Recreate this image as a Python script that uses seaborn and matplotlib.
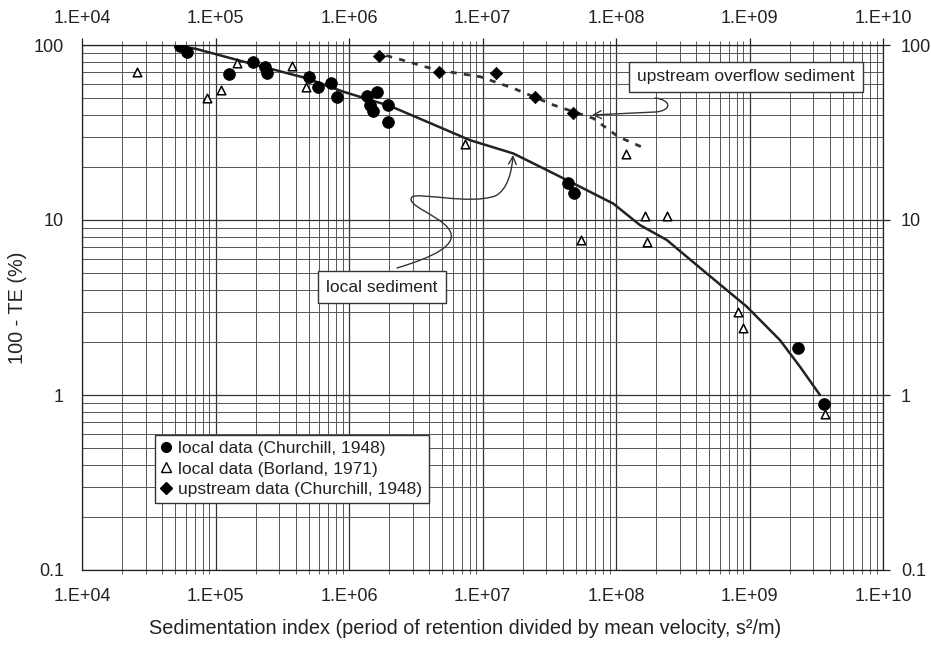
import numpy as np
import pandas as pd
import matplotlib
matplotlib.use("Agg")
import matplotlib.pyplot as plt
import seaborn as sns
from matplotlib.patches import FancyArrowPatch
from matplotlib.path import Path
from matplotlib.lines import Line2D
from matplotlib.ticker import FixedLocator, FixedFormatter, LogLocator, NullFormatter

# ---------------- data ----------------
churchill_x = [5.4e4, 6.1e4, 1.27e5, 1.9e5, 2.36e5, 2.44e5, 5.0e5, 5.9e5, 7.3e5, 8.2e5,
               1.37e6, 1.61e6, 1.44e6, 1.5e6, 1.97e6, 1.97e6, 4.4e7, 4.87e7, 2.32e9, 3.6e9]
churchill_y = [98.7, 91.6, 68.2, 80.3, 74.5, 69.5, 65.3, 57.8, 60.4, 50.7,
               51.3, 54.1, 45.4, 42.0, 45.4, 36.5, 16.2, 14.2, 1.86, 0.885]

borland_x = [2.6e4, 8.7e4, 1.1e5, 1.44e5, 3.72e5, 4.77e5, 7.4e6, 5.5e7, 1.19e8,
             1.65e8, 1.72e8, 2.42e8, 8.2e8, 8.9e8, 3.68e9]
borland_y = [69.8, 49.6, 55.3, 78.5, 75.9, 57.3, 27.1, 7.7, 23.8,
             10.6, 7.5, 10.6, 3.0, 2.43, 0.78]

upstream_x = [1.68e6, 4.74e6, 1.26e7, 2.47e7, 4.74e7]
upstream_y = [86.5, 70.4, 68.9, 50.7, 40.7]

local_curve_x = [5.4e4, 7.2e4, 1.92e5, 4.8e5, 9.06e5, 2.03e6, 4.05e6, 8.05e6, 1.7e7,
                 3.03e7, 5.37e7, 9.55e7, 1.51e8, 2.4e8, 4.78e8, 9.53e8, 1.69e9,
                 2.39e9, 3.37e9]
local_curve_y = [98.7, 94.9, 77.6, 64.6, 54.1, 44.8, 35.8, 28.6, 24.0,
                 19.3, 15.5, 12.4, 9.36, 7.69, 4.95, 3.2, 2.06,
                 1.45, 1.0]

upstream_curve_x = [1.9e6, 2.41e6, 4.5e6, 9.6e6, 1.7e7, 3.4e7, 6.76e7, 1.04e8, 1.72e8]
upstream_curve_y = [87.0, 82.8, 72.0, 65.9, 56.6, 45.4, 38.1, 29.9, 25.3]

x_ticks = [1e4, 1e5, 1e6, 1e7, 1e8, 1e9, 1e10]
x_tick_labels = ["1.E+04", "1.E+05", "1.E+06", "1.E+07", "1.E+08", "1.E+09", "1.E+10"]
y_ticks = [0.1, 1, 10, 100]
y_tick_labels = ["0.1", "1", "10", "100"]

legend_labels = ["local data (Churchill, 1948)", "local data (Borland, 1971)",
                 "upstream data (Churchill, 1948)"]
x_label = "Sedimentation index (period of retention divided by mean velocity, s²/m)"
y_label = "100 - TE (%)"

# ---------------- style ----------------
sns.set_theme(style="white")
plt.rcParams["font.family"] = ["Liberation Sans", "DejaVu Sans"]
plt.rcParams["axes.edgecolor"] = "#222222"

W, H = 931, 646
fig = plt.figure(figsize=(W / 100, H / 100), dpi=100)
ax = fig.add_axes([82 / W, 1 - 570 / H, (883 - 82) / W, (570 - 45) / H])
ax.set_xscale("log")
ax.set_yscale("log")
ax.set_xlim(1e4, 1e10)
ax.set_ylim(0.1, 100)

# grid (log paper look)
ax.grid(which="major", color="#333333", lw=0.9)
ax.grid(which="minor", color="#555555", lw=0.7)
ax.xaxis.set_minor_locator(LogLocator(base=10, subs=np.arange(2, 10), numticks=100))
ax.yaxis.set_minor_locator(LogLocator(base=10, subs=np.arange(2, 10), numticks=100))
ax.xaxis.set_minor_formatter(NullFormatter())
ax.yaxis.set_minor_formatter(NullFormatter())

# curves
df_local = pd.DataFrame({"x": local_curve_x, "y": local_curve_y})
df_up = pd.DataFrame({"x": upstream_curve_x, "y": upstream_curve_y})
sns.lineplot(data=df_local, x="x", y="y", ax=ax, color="#222222", lw=1.8,
             sort=False, estimator=None, zorder=3,
             solid_joinstyle="round", solid_capstyle="round")
sns.lineplot(data=df_up, x="x", y="y", ax=ax, color="#333333", lw=2.0,
             sort=False, estimator=None, zorder=3, linestyle=(0, (2.2, 2.6)))

# points
sns.scatterplot(x=churchill_x, y=churchill_y, ax=ax, marker="o", s=70,
                color="black", edgecolor="black", zorder=4)
sns.scatterplot(x=borland_x, y=borland_y, ax=ax, marker="^", s=38,
                facecolor="white", edgecolor="black", linewidth=1.1, zorder=4)
sns.scatterplot(x=upstream_x, y=upstream_y, ax=ax, marker="D", s=40,
                color="black", edgecolor="black", zorder=4)

# ticks
for axis_obj, ticks, labels in ((ax.xaxis, x_ticks, x_tick_labels), (ax.yaxis, y_ticks, y_tick_labels)):
    axis_obj.set_major_locator(FixedLocator(ticks))
    axis_obj.set_major_formatter(FixedFormatter(labels))
ax.tick_params(which="major", direction="out", length=5, width=0.9, color="#222222",
               labelsize=13, labelcolor="#222222",
               top=True, right=True, labeltop=True, labelright=True, pad=8)
ax.tick_params(which="minor", direction="out", length=3, width=0.6, color="#444444",
               bottom=True, top=True, left=False, right=False)
for sp in ax.spines.values():
    sp.set_linewidth(0.9)
    sp.set_color("#222222")

ax.set_xlabel(x_label, fontsize=14.3, color="#222222")
ax.xaxis.set_label_coords(0.478, -0.094)
ax.set_ylabel(y_label, fontsize=14.3, color="#222222", labelpad=5)

# legend
handles = [
    Line2D([], [], marker="o", ls="none", color="black", markersize=7),
    Line2D([], [], marker="^", ls="none", markerfacecolor="white",
           markeredgecolor="black", markersize=6.5, markeredgewidth=1.0),
    Line2D([], [], marker="D", ls="none", color="black", markersize=6),
]
leg = ax.legend(handles, legend_labels, loc="lower left",
                bbox_to_anchor=((155 - 82) / 801, (570 - 503) / 525),
                fontsize=12.5, frameon=True, fancybox=False, framealpha=1,
                edgecolor="#333333", handlelength=0.6, handletextpad=0.4,
                borderpad=0.35, labelspacing=0.3, borderaxespad=0)
leg.get_frame().set_linewidth(1.0)
for t in leg.get_texts():
    t.set_color("#222222")


def fp(x, y):
    return (x / W, 1 - y / H)


# callout boxes
fig.text(*fp(746, 77), "upstream overflow sediment", ha="center", va="center",
         fontsize=12.5, color="#222222", zorder=6,
         bbox=dict(boxstyle="square,pad=0.45", fc="white", ec="#333333", lw=1.0))
fig.text(*fp(382, 287), "local sediment", ha="center", va="center",
         fontsize=12.5, color="#222222", zorder=6,
         bbox=dict(boxstyle="square,pad=0.5", fc="white", ec="#333333", lw=1.0))

# arrows
verts_local = [fp(397, 268),
               fp(430, 258), fp(462, 245), fp(448, 228),
               fp(438, 215), fp(405, 205), fp(412, 197),
               fp(418, 192), fp(470, 205), fp(495, 196),
               fp(508, 190), fp(512, 170), fp(513, 155)]
codes_local = [Path.MOVETO] + [Path.CURVE4] * 12
arr1 = FancyArrowPatch(path=Path(verts_local, codes_local), arrowstyle="->",
                       mutation_scale=14, lw=1.0, color="#333333",
                       transform=fig.transFigure, zorder=6)
fig.add_artist(arr1)

verts_up = [fp(655, 98), fp(672, 100), fp(672, 111), fp(655, 112), fp(592, 115)]
codes_up = [Path.MOVETO, Path.CURVE4, Path.CURVE4, Path.CURVE4, Path.LINETO]
arr2 = FancyArrowPatch(path=Path(verts_up, codes_up), arrowstyle="->",
                       mutation_scale=14, lw=1.0, color="#333333",
                       transform=fig.transFigure, zorder=6)
fig.add_artist(arr2)

fig.savefig("out.png", dpi=100, facecolor="white")
